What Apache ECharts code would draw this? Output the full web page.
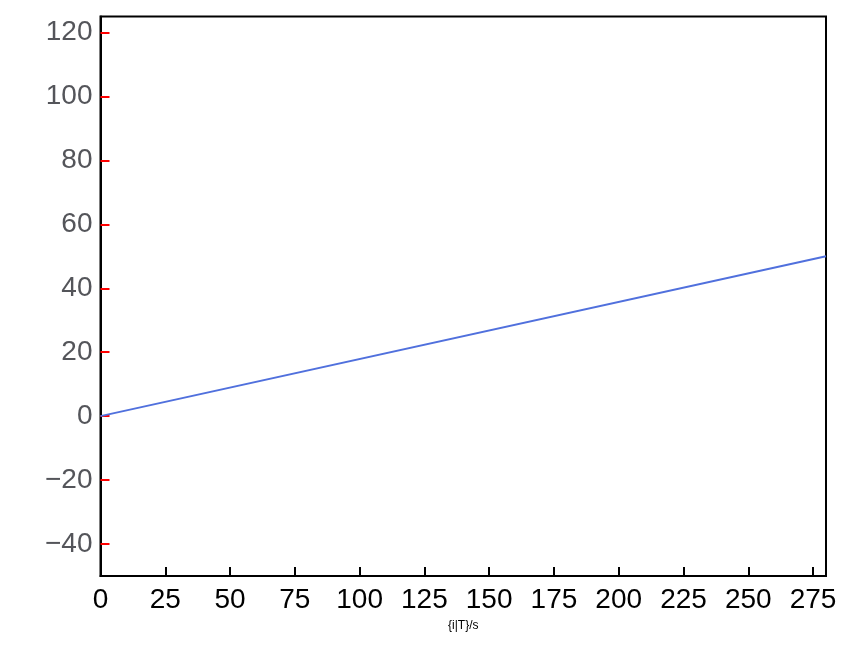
<!DOCTYPE html>
<html>
<head>
<meta charset="utf-8">
<script src="https://cdn.jsdelivr.net/npm/echarts@6/dist/echarts.min.js"></script>
<style>
  html, body { margin: 0; padding: 0; background: #fff; }
  #main { width: 848px; height: 662px; }
</style>
</head>
<body>
<div id="main"></div>
<script>
var xTicks = [0, 25, 50, 75, 100, 125, 150, 175, 200, 225, 250, 275]
var yTicks = [-40, -20, 0, 20, 40, 60, 80, 100, 120]
var chart = echarts.init(document.getElementById('main'))
chart.setOption({
  animation: false,
  grid: { left: 100.5, right: 22, top: 16.5, bottom: 86, outerBoundsMode: 'none', containLabel: false, show: true, borderColor: '#000', borderWidth: 2 },
  xAxis: { type: 'value', min: 0, max: 280, splitLine: { show: false }, name: '{i|T}/s', nameLocation: 'middle', nameGap: 44,
    axisLine: { onZero: false, lineStyle: { color: '#000', width: 2 } },
    axisTick: { show: true, inside: true, length: 9, lineStyle: { color: '#000', width: 2 }, customValues: xTicks },
    axisLabel: { fontSize: 28, color: '#000', margin: 10, customValues: xTicks } },
  yAxis: { type: 'value', min: -50, max: 125, splitLine: { show: false },
    axisLine: { show: true, onZero: false, lineStyle: { color: '#000', width: 2 } },
    axisTick: { show: true, inside: true, length: 9, lineStyle: { color: 'red', width: 2 }, customValues: yTicks },
    axisLabel: { fontSize: 28, customValues: yTicks, formatter: function (v) { return String(v).replace('-', '\u2212') } } },
  series: [{ type: 'line', symbol: 'none', data: [[0, 0], [280, 50]] }]
})
</script>
</body>
</html>
